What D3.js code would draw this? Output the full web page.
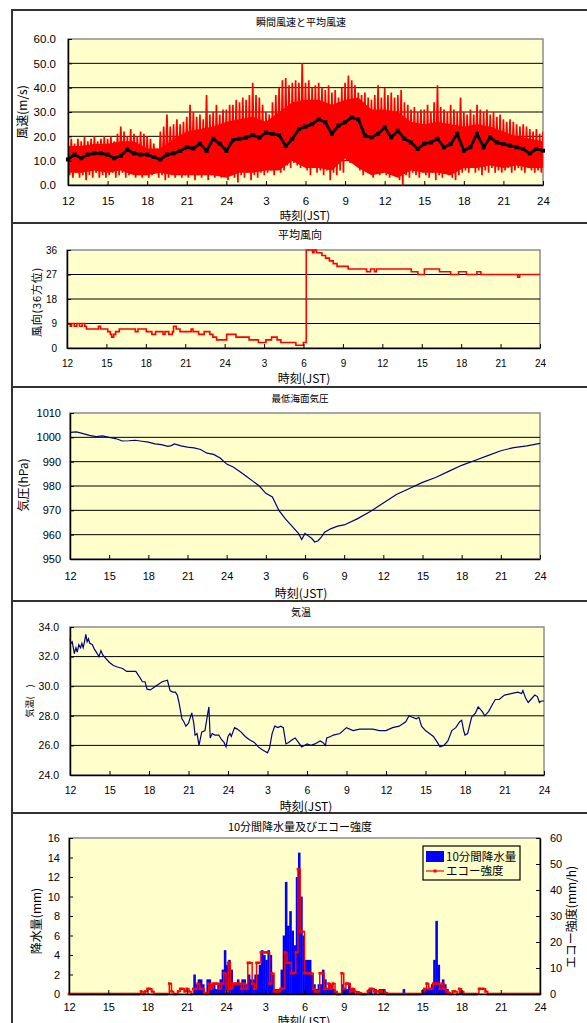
<!DOCTYPE html>
<html>
<head>
<meta charset="utf-8">
<script src="https://cdnjs.cloudflare.com/ajax/libs/d3/7.8.5/d3.min.js"></script>
<style>
body { margin: 0; background: #fff; }
svg { display: block; }
</style>
</head>
<body>
<div id="chart"></div>
<script>
// time axis: hours since 12:00 of day 1 (0 .. 36)
var hourTicks = [0, 3, 6, 9, 12, 15, 18, 21, 24, 27, 30, 33, 36];
var hourLabels = ["12", "15", "18", "21", "24", "3", "6", "9", "12", "15", "18", "21", "24"];

// 瞬間風速 (m/s), 15 min max / min
var gustMax = [18, 19, 17, 19, 18, 20, 18, 19, 20, 18, 19, 20,
  19, 20, 18, 21, 24, 22, 20, 23, 21, 20, 22, 21,
  20, 19, 17, 15, 22, 24, 29, 24, 25, 27, 25, 26,
  28, 33, 30, 28, 29, 27, 37, 29, 30, 33, 29, 31,
  31, 33, 33, 35, 34, 36, 35, 37, 42, 37, 36, 33,
  30, 29, 34, 37, 40, 43, 44, 41, 42, 43, 42, 50,
  42, 43, 40, 41, 42, 40, 39, 41, 38, 39, 36, 40,
  42, 45, 43, 41, 38, 37, 38, 36, 35, 37, 41, 36,
  40, 37, 38, 36, 37, 39, 34, 33, 31, 32, 30, 31,
  31, 33, 30, 34, 41, 32, 31, 30, 33, 31, 30, 36,
  30, 29, 31, 29, 33, 31, 30, 31, 29, 30, 28, 29,
  27, 26, 27, 26, 25, 24, 25, 24, 23, 22, 23, 21, 22];
var gustMin = [4, 3, 5, 3, 4, 2, 4, 3, 5, 3, 4, 3,
  4, 5, 3, 4, 5, 3, 4, 5, 3, 4, 3, 4,
  3, 4, 5, 3, 4, 2, 3, 4, 3, 5, 3, 4,
  3, 5, 2, 4, 3, 5, 2, 4, 3, 5, 3, 4,
  2, 4, 3, 1, 4, 3, 5, 2, 4, 3, 5, 4,
  5, 6, 4, 7, 5, 6, 8, 7, 9, 8, 7, 10,
  6, 4, 7, 5, 6, 4, 6, 2, 5, 4, 6, 5,
  10, 9, 10, 8, 6, 4, 7, 5, 3, 6, 4, 5,
  4, 3, 5, 4, 2, 0, 4, 3, 5, 4, 3, 5,
  4, 3, 5, 2, 4, 3, 5, 4, 3, 2, 4, 5,
  6, 5, 7, 5, 6, 4, 6, 5, 7, 5, 6, 5,
  6, 7, 5, 6, 7, 6, 5, 7, 6, 5, 6, 5, 6];
// top of the dense part of the gust band, hourly (m/s)
var gustBody = [16, 16, 17, 17, 18, 18, 15, 15, 19, 22, 23, 24, 26, 27, 28, 26, 30, 34, 35,
  35, 33, 35, 36, 31, 31, 30, 26, 25, 26, 25, 24, 25, 24, 22, 20, 19, 18];
// 平均風速 (m/s), every 30 min
var meanWind = [10.5, 12.5, 11, 12.5, 13, 13, 12.5, 11, 12, 14.5, 13, 12.5,
  12.5, 11.5, 10.5, 12.5, 13, 14, 15.5, 15, 17, 14, 19, 17,
  14, 18.5, 19, 19.5, 20.5, 19.5, 21.5, 21, 20.5, 16, 19, 23,
  24, 25, 27, 25.8, 21, 24.4, 25.8, 27.8, 27, 20.3, 19.6, 21,
  23.7, 19.6, 22.3, 19, 17.5, 14.8, 17, 17.5, 19, 15.5, 16.8, 21,
  14.1, 15.5, 21, 15.5, 19.6, 17.5, 16.8, 16.2, 15.5, 14.8, 13, 14.8, 14.1];
var windTicks = [0, 10, 20, 30, 40, 50, 60];

// 平均風向 (36方位): hour of change, value
var dirHour = [0, 0.25, 0.35, 0.55, 0.75, 0.95, 1.15, 1.35, 1.48, 2.39, 2.55, 3.1, 3.3, 3.4, 3.55, 3.7, 3.98,
  5.2, 5.4, 6.03, 6.46, 6.74, 7.31, 7.46, 7.75, 8.02, 8.11, 8.31, 8.6, 8.88, 9.45, 9.59, 10.02, 10.44,
  10.87, 11.1, 11.38, 12.15, 12.86, 13.86, 14.57, 15.14, 15.57, 15.99, 16.28, 17.42, 17.99, 18.21,
  18.7, 18.8, 18.98, 19.4, 19.68, 19.97, 20.26, 20.55, 21.4, 22.8, 23.1, 23.4, 23.55, 26.2, 26.7,
  27.2, 28.35, 29.2, 29.8, 30.4, 31.2, 31.5, 34.3, 34.45, 36];
var dirValue = [9, 8, 9, 8, 9, 8, 9, 8, 7, 8, 7, 6, 5, 4, 5, 6, 7,
  6, 7, 6, 5, 6, 5, 6, 5, 6, 8, 7, 6, 6, 7, 6, 5, 6,
  5, 4, 3, 5, 4, 3, 2, 3, 4, 3, 2, 1, 2, 36,
  35, 36, 35, 34, 33, 32, 31, 30, 29, 28, 29, 28, 29, 28, 27,
  29, 28, 27, 28, 27, 28, 27, 26, 27, 27];
var dirTicks = [0, 9, 18, 27, 36];

// 最低海面気圧 (hPa)
var presHour = [0, 0.5, 1, 1.5, 2, 2.5, 3, 3.5, 4, 4.5, 5, 5.5, 6, 6.5, 7, 7.5, 7.75, 8, 8.5, 9, 9.5,
  10, 10.5, 11, 11.5, 12, 12.5, 13, 13.5, 14, 14.5, 15, 15.5, 16, 16.5, 17, 17.5, 17.75, 18, 18.25,
  18.5, 18.75, 19, 19.25, 19.5, 20, 20.5, 21, 22, 23, 24, 25, 26, 27, 28, 29, 30, 31, 32, 33, 34, 35, 36];
var presValue = [1002, 1002.2, 1001.5, 1000.8, 1000.3, 1000.6, 1000, 999.5, 998.5, 998.6, 998.8, 998.4,
  998, 997.3, 997, 996.3, 996.6, 997.3, 996.5, 996, 995.7, 995, 993.5, 993, 991.5, 989, 987.8, 986,
  984, 982, 980, 977, 975.5, 970, 966.5, 963.5, 960.5, 958, 960.5, 959.5, 958.5, 957, 957.5, 959,
  961, 962.5, 963.5, 964, 966.5, 969.5, 973, 976.5, 979, 981.5, 983.5, 986, 988.5, 990.5, 992.5,
  994.5, 995.8, 996.5, 997.5];
var presTicks = [950, 960, 970, 980, 990, 1000, 1010];

// 気温
var tempHour = [0, 0.08, 0.17, 0.25, 0.33, 0.45, 0.55, 0.67, 0.8, 0.9, 1.0, 1.1, 1.2, 1.3, 1.4, 1.5, 1.7,
  1.85, 2.0, 2.2, 2.35, 2.5, 2.7, 3.0, 3.3, 3.6, 4.0, 4.3, 4.7, 5.0, 5.3, 5.5, 5.7, 5.85, 6.1, 6.5,
  7.0, 7.4, 7.6, 7.8, 8.0, 8.15, 8.3, 8.5, 8.65, 8.8, 9.0, 9.25, 9.4, 9.5, 9.65, 9.8, 10.0, 10.25,
  10.45, 10.55, 10.65, 10.8, 11.0, 11.3, 11.5, 11.7, 11.85, 12.0, 12.15, 12.25, 12.5, 12.7, 13.0,
  13.3, 13.6, 14.0, 14.3, 14.6, 14.8, 15.0, 15.15, 15.35, 15.55, 15.8, 16.0, 16.2, 16.4, 16.6, 16.9,
  17.1, 17.35, 17.6, 17.8, 18.0, 18.3, 18.6, 19.0, 19.2, 19.4, 19.5, 19.8, 20.0, 20.5, 21.0, 21.5,
  22.0, 22.5, 23.0, 23.5, 24.0, 24.5, 25.0, 25.5, 25.75, 26.0, 26.3, 26.5, 26.7, 27.0, 27.3, 27.6,
  27.9, 28.1, 28.4, 28.7, 29.0, 29.3, 29.6, 29.75, 29.9, 30.0, 30.2, 30.5, 30.8, 31.0, 31.3, 31.5,
  31.8, 32.1, 32.3, 32.6, 33.0, 33.5, 34.0, 34.3, 34.4, 34.6, 34.8, 35.0, 35.3, 35.5, 35.65, 35.8, 36.0];
var tempValue = [33.2, 32.9, 33.0, 32.6, 32.2, 32.6, 32.3, 32.8, 32.6, 32.9, 32.6, 33.0, 33.5, 33.0, 33.2,
  32.9, 32.8, 32.5, 32.3, 32.0, 32.4, 32.1, 31.9, 31.6, 31.4, 31.3, 31.2, 31.0, 31.0, 31.0, 30.6, 30.3,
  30.3, 29.8, 29.75, 30.0, 30.3, 30.4, 29.7, 29.6, 29.6, 29.4, 28.8, 27.8, 27.6, 27.3, 27.5, 28.2, 27.5,
  26.7, 26.8, 26.0, 26.9, 27.0, 28.1, 28.6, 26.5, 26.8, 26.7, 26.7, 26.4, 26.2, 25.9, 26.6, 26.8, 26.6,
  27.2, 27.1, 26.9, 26.6, 26.4, 26.2, 25.9, 25.7, 25.6, 25.5, 25.8, 26.8, 27.3, 27.2, 27.3, 27.2, 26.1,
  26.2, 26.4, 26.5, 26.2, 25.9, 26.0, 26.1, 26.0, 26.1, 26.3, 26.2, 26.0, 26.5, 26.6, 26.7, 26.8, 27.2,
  27.0, 27.1, 27.1, 27.1, 27.0, 27.0, 27.2, 27.3, 27.6, 28.0, 27.9, 27.8, 27.9, 27.3, 27.0, 26.8, 26.6,
  26.2, 25.9, 26.0, 26.3, 27.0, 27.2, 27.6, 27.7, 27.0, 26.7, 26.8, 27.9, 28.2, 28.6, 28.3, 28.0, 28.3,
  28.8, 29.1, 29.1, 29.4, 29.5, 29.6, 29.5, 29.7, 29.2, 28.9, 29.1, 29.4, 29.3, 28.9, 29.0, 29.0];
var tempTicks = [24, 26, 28, 30, 32, 34];

// 10分間降水量 (mm): 10-min bin index since 12:00, value
var rainBin = [57, 58, 59, 60, 61, 63, 64, 65, 66, 67, 68, 69, 70, 71, 72, 73, 74, 75, 76, 77, 78, 79, 80,
  81, 82, 83, 84, 85, 86, 87, 88, 89, 90, 91, 92, 93, 94, 95, 96, 97, 98, 99, 100, 101, 102, 103, 104,
  105, 106, 107, 108, 109, 110, 111, 112, 113, 114, 115, 116, 117, 118, 119, 120, 121, 122, 125, 126,
  127, 128, 129, 130, 132, 137, 138, 140, 142, 143, 144, 153, 162, 163, 164, 165, 166, 167, 168, 169,
  170, 171, 172, 173, 179, 180];
var rainMm = [2.0, 1.0, 1.5, 1.5, 1.0, 1.5, 1.5, 1.0, 1.0, 0.5, 1.0, 1.5, 2.5, 4.5, 3.0, 3.5, 2.5, 1.0,
  1.0, 1.5, 1.0, 1.5, 1.5, 1.0, 2.0, 1.5, 1.5, 2.0, 2.0, 3.0, 4.5, 4.0, 3.5, 4.5, 4.0, 2.0, 0.5, 0.5,
  0.5, 2.5, 6.0, 11.5, 7.0, 8.5, 6.5, 5.0, 12.0, 14.5, 10.0, 6.0, 3.5, 3.5, 3.5, 2.0, 1.0, 0.5, 1.0,
  1.0, 2.5, 1.5, 0.5, 1.0, 1.0, 0.5, 0.3, 1.0, 0.5, 0.5, 1.0, 0.5, 0.5, 0.3, 0.5, 0.5, 0.5, 0.5, 0.5,
  0.5, 0.5, 0.5, 0.5, 0.5, 0.5, 1.0, 3.5, 7.5, 3.0, 1.0, 1.5, 1.0, 0.5, 0.3, 0.3];
var rainTicks = [0, 2, 4, 6, 8, 10, 12, 14, 16];

// エコー強度 (mm/h): 10-min bin index, value
var echoBin = [33, 35, 36, 37, 38, 46, 47, 50, 51, 52, 53, 54, 55, 57, 58, 59, 60, 61, 62, 64, 65, 66, 67,
  68, 69, 70, 71, 72, 73, 74, 75, 76, 77, 78, 79, 80, 81, 82, 83, 84, 85, 86, 87, 88, 89, 90, 91, 92,
  93, 94, 95, 96, 97, 98, 99, 100, 101, 102, 103, 104, 105, 106, 107, 108, 109, 110, 111, 112, 113,
  114, 115, 116, 117, 118, 119, 120, 121, 122, 125, 126, 127, 128, 129, 130, 131, 132, 133, 137, 138,
  139, 140, 141, 142, 143, 144, 145, 162, 163, 164, 165, 166, 167, 168, 169, 170, 171, 172, 173, 174,
  176, 177, 179, 180, 188, 189, 190, 191];
var echoValue = [1, 1, 2, 2, 1, 4, 1, 1, 2, 2, 1, 2, 1, 2, 2, 4, 2, 2, 0.5, 4, 2, 4, 4,
  4, 2, 4, 8, 1, 12, 2, 4, 4, 4, 4, 2, 4, 2, 12, 12, 4, 2, 12, 12, 16, 16, 16, 16, 4,
  8, 1, 1, 1, 2, 2, 16, 12, 12, 8, 8, 16, 48, 24, 24, 8, 8, 8, 8, 2, 1,
  1, 8, 8, 2, 2, 4, 2, 4, 1, 8, 2, 4, 4, 1, 2, 1, 0.5, 0.5, 1, 2,
  2, 1, 1, 1, 1, 1, 0.5, 1, 2, 4, 2, 2, 4, 4, 4, 2, 4, 2, 1, 0.5,
  1, 1, 2, 1, 2, 2, 2, 1];
var echoTicks = [0, 10, 20, 30, 40, 50, 60];

var width = 587;
var height = 1023;
var jpFont = "'Noto Sans CJK JP', sans-serif";
var numFont = "'Liberation Sans', Arial, sans-serif";

var svg = d3.select("#chart").append("svg")
  .attr("width", width)
  .attr("height", height)
  .style("background", "#fff");

// outer frame
var frameYs = [10, 223, 387, 601, 813];
svg.append("line").attr("x1", 12).attr("x2", 12).attr("y1", 9).attr("y2", height)
  .attr("stroke", "#333").attr("stroke-width", 2);
frameYs.forEach(function(fy) {
  svg.append("line").attr("x1", 11).attr("x2", width).attr("y1", fy).attr("y2", fy)
    .attr("stroke", "#333").attr("stroke-width", 2);
});

function makePanel(box, yDomain, gridTicks, id) {
  var x = d3.scaleLinear().domain([0, 36]).range([box.left, box.right]);
  var y = d3.scaleLinear().domain(yDomain).range([box.bottom, box.top]);

  svg.append("rect")
    .attr("x", box.left).attr("y", box.top)
    .attr("width", box.right - box.left).attr("height", box.bottom - box.top)
    .attr("fill", "#FFFFCC").attr("stroke", "#8c8c8c").attr("stroke-width", 1.5);

  svg.append("g").selectAll("line").data(gridTicks).enter().append("line")
    .attr("x1", box.left).attr("x2", box.right)
    .attr("y1", function(d) { return y(d); })
    .attr("y2", function(d) { return y(d); })
    .attr("stroke", "#000").attr("stroke-width", 1);

  svg.append("clipPath").attr("id", id).append("rect")
    .attr("x", box.left).attr("y", box.top - 1)
    .attr("width", box.right - box.left).attr("height", box.bottom - box.top + 1);

  return { x: x, y: y, box: box, clip: "url(#" + id + ")" };
}

function drawAxes(p, yTicks, yFormat, opt) {
  var xg = svg.append("g")
    .attr("transform", "translate(0," + p.box.bottom + ")")
    .call(d3.axisBottom(p.x).tickValues(hourTicks).tickSizeInner(-4).tickSizeOuter(0)
      .tickPadding(opt.xPad).tickFormat(function(d, i) { return hourLabels[i]; }));
  xg.attr("font-family", numFont).attr("font-size", opt.xFont);
  xg.select(".domain").attr("stroke", "#000").attr("stroke-width", 1.5);

  var yg = svg.append("g")
    .attr("transform", "translate(" + p.box.left + ",0)")
    .call(d3.axisLeft(p.y).tickValues(yTicks).tickSizeInner(-4).tickSizeOuter(0)
      .tickPadding(opt.yPad).tickFormat(yFormat));
  yg.attr("font-family", numFont).attr("font-size", opt.yFont);
  yg.select(".domain").attr("stroke", "#000").attr("stroke-width", 1.5);
}

function label(txt, x, y, size, rotate) {
  var t = svg.append("text")
    .attr("text-anchor", "middle")
    .attr("font-family", jpFont)
    .attr("font-size", size)
    .attr("fill", "#000")
    .text(txt);
  if (rotate) {
    t.attr("transform", "translate(" + x + "," + y + ") rotate(-90)").attr("dy", "0.35em");
  } else {
    t.attr("x", x).attr("y", y).attr("dy", "0.35em");
  }
  return t;
}

// ---------- 瞬間風速と平均風速 ----------
var p1 = makePanel({ left: 68, right: 543, top: 39, bottom: 185 }, [0, 60], [10, 20, 30, 40, 50], "clip1");

// dense core of the gust band
var bodyArea = d3.area()
  .x(function(d, i) { return p1.x(i); })
  .y0(function(d, i) { return p1.y(gustMin[i * 4] + 1); })
  .y1(function(d) { return p1.y(d); });
svg.append("path").datum(gustBody)
  .attr("clip-path", p1.clip)
  .attr("d", bodyArea)
  .attr("fill", "#FF0000");

// zigzag through 15-min max / min gives the spiky edge
var gustPoints = [];
gustMax.forEach(function(v, i) {
  gustPoints.push([i / 4, v]);
  if (i < gustMax.length - 1) gustPoints.push([i / 4 + 0.125, gustMin[i]]);
});
var gustLine = d3.line()
  .x(function(d) { return p1.x(d[0]); })
  .y(function(d) { return p1.y(d[1]); });
svg.append("path").datum(gustPoints)
  .attr("clip-path", p1.clip)
  .attr("d", gustLine)
  .attr("fill", "none").attr("stroke", "#FF0000").attr("stroke-width", 1.7);

var meanLine = d3.line()
  .x(function(d, i) { return p1.x(i / 2); })
  .y(function(d) { return p1.y(d); });
svg.append("path").datum(meanWind)
  .attr("d", meanLine)
  .attr("fill", "none").attr("stroke", "#000").attr("stroke-width", 2.8);
svg.append("g").selectAll("rect").data(meanWind).enter().append("rect")
  .attr("x", function(d, i) { return p1.x(i / 2) - 2; })
  .attr("y", function(d) { return p1.y(d) - 2; })
  .attr("width", 4).attr("height", 4).attr("fill", "#000");

drawAxes(p1, windTicks, d3.format(".1f"), { xPad: 12, xFont: 11.5, yPad: 12, yFont: 11.5 });
label("瞬間風速と平均風速", 301, 22, 10);
label("時刻(JST)", 305, 216, 11.5);
label("風速(m/s)", 23, 112, 12, true);

// ---------- 平均風向 ----------
var p2 = makePanel({ left: 67, right: 540, top: 250, bottom: 348 }, [0, 36], [9, 18, 27], "clip2");
var dirLine = d3.line().curve(d3.curveStepAfter)
  .x(function(d, i) { return p2.x(dirHour[i]); })
  .y(function(d) { return p2.y(d); });
svg.append("path").datum(dirValue)
  .attr("clip-path", p2.clip)
  .attr("d", dirLine)
  .attr("fill", "none").attr("stroke", "#FF0000").attr("stroke-width", 1.6);

drawAxes(p2, dirTicks, d3.format("d"), { xPad: 12, xFont: 10, yPad: 10, yFont: 10 });
label("平均風向", 300, 235, 11);
label("時刻(JST)", 304, 379, 12);
label("風向(36方位)", 37, 302, 11, true).attr("letter-spacing", 0.8);

// ---------- 最低海面気圧 ----------
var p3 = makePanel({ left: 70, right: 540, top: 413, bottom: 559 }, [950, 1010], [960, 970, 980, 990, 1000], "clip3");
var presLine = d3.line()
  .x(function(d, i) { return p3.x(presHour[i]); })
  .y(function(d) { return p3.y(d); });
svg.append("path").datum(presValue)
  .attr("d", presLine)
  .attr("fill", "none").attr("stroke", "#000080").attr("stroke-width", 1.2);

drawAxes(p3, presTicks, d3.format("d"), { xPad: 13, xFont: 11, yPad: 9, yFont: 11 });
label("最低海面気圧", 300, 399, 9.5);
label("時刻(JST)", 301, 594, 12);
label("気圧(hPa)", 24, 485, 12, true);

// ---------- 気温 ----------
var p4 = makePanel({ left: 70, right: 544, top: 627, bottom: 775 }, [24, 34], [26, 28, 30, 32], "clip4");
var tempLine = d3.line()
  .x(function(d, i) { return p4.x(tempHour[i]); })
  .y(function(d) { return p4.y(d); });
svg.append("path").datum(tempValue)
  .attr("d", tempLine)
  .attr("fill", "none").attr("stroke", "#000080").attr("stroke-width", 1.2);

drawAxes(p4, tempTicks, d3.format(".1f"), { xPad: 12, xFont: 10.5, yPad: 11, yFont: 10.5 });
label("気温", 301, 612, 10);
label("時刻(JST)", 306, 807, 12);
label("気温(　)", 30, 701, 9, true);

// ---------- 10分間降水量及びエコー強度 ----------
var p5 = makePanel({ left: 69, right: 540, top: 838, bottom: 994 }, [0, 16], [], "clip5");
var y2 = d3.scaleLinear().domain([0, 60]).range([p5.box.bottom, p5.box.top]);
var binW = p5.x(1 / 6) - p5.x(0);

svg.append("g").selectAll("rect").data(rainMm).enter().append("rect")
  .attr("x", function(d, i) { return p5.x(rainBin[i] / 6); })
  .attr("y", function(d) { return p5.y(d); })
  .attr("width", binW + 0.4)
  .attr("height", function(d) { return p5.y(0) - p5.y(d); })
  .attr("fill", "#0000FF");

var echoFull = d3.range(217).map(function() { return 0; });
echoBin.forEach(function(b, i) { echoFull[b] = echoValue[i]; });
var echoLine = d3.line().curve(d3.curveStepAfter)
  .x(function(d, i) { return p5.x(i / 6); })
  .y(function(d) { return y2(d); });
svg.append("path").datum(echoFull)
  .attr("d", echoLine)
  .attr("fill", "none").attr("stroke", "#FF0000").attr("stroke-width", 1.5);
svg.append("g").selectAll("rect").data(echoFull).enter().append("rect")
  .attr("x", function(d, i) { return p5.x(i / 6) - 1.3; })
  .attr("y", function(d) { return y2(d) - 1.3; })
  .attr("width", 2.6).attr("height", 2.6).attr("fill", "#FF0000");

drawAxes(p5, rainTicks, d3.format("d"), { xPad: 9, xFont: 11, yPad: 9, yFont: 11 });
var rg = svg.append("g")
  .attr("transform", "translate(" + p5.box.right + ",0)")
  .call(d3.axisRight(y2).tickValues(echoTicks).tickSizeInner(-4).tickSizeOuter(0).tickPadding(10));
rg.attr("font-family", numFont).attr("font-size", 11);
rg.select(".domain").attr("stroke", "#000").attr("stroke-width", 1.5);

label("10分間降水量及びエコー強度", 300, 827, 11);
label("時刻(JST)", 304, 1022, 12);
label("降水量(mm)", 37, 921, 12, true);
label("エコー強度(mm/h)", 572, 917, 12, true);

// legend
var lg = svg.append("g").attr("transform", "translate(423,846)");
lg.append("rect").attr("width", 97).attr("height", 34)
  .attr("fill", "none").attr("stroke", "#000").attr("stroke-width", 1.2);
lg.append("rect").attr("x", 3).attr("y", 5).attr("width", 18).attr("height", 11).attr("fill", "#0000FF");
lg.append("text").attr("x", 23).attr("y", 11).attr("dy", "0.35em")
  .attr("font-family", jpFont).attr("font-size", 11.5).text("10分間降水量");
lg.append("line").attr("x1", 3).attr("x2", 21).attr("y1", 25).attr("y2", 25)
  .attr("stroke", "#FF0000").attr("stroke-width", 1.2);
lg.append("rect").attr("x", 10.5).attr("y", 23.5).attr("width", 3).attr("height", 3).attr("fill", "#FF0000");
lg.append("text").attr("x", 23).attr("y", 25).attr("dy", "0.35em")
  .attr("font-family", jpFont).attr("font-size", 11.5).text("エコー強度");
</script>
</body>
</html>
